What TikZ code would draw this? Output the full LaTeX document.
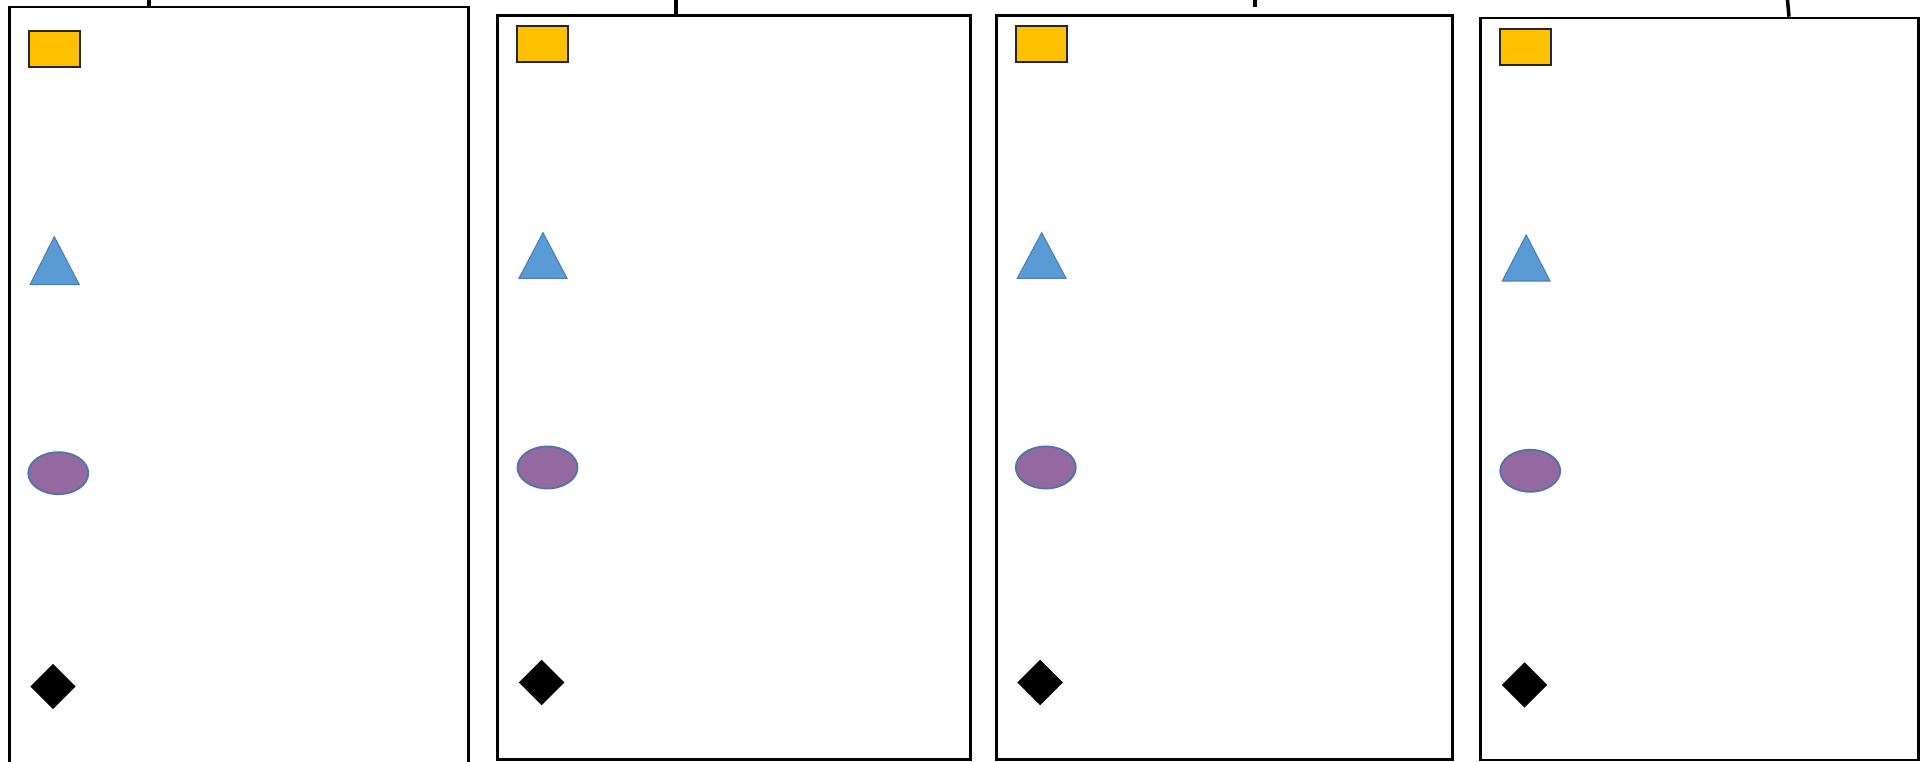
\documentclass[tikz,border=0pt]{standalone}
\usetikzlibrary{shapes.geometric}
\definecolor{shapeyellow}{HTML}{FFC000}
\definecolor{triblue}{HTML}{5B9BD5}
\definecolor{triedge}{HTML}{4A7EB5}
\definecolor{ellpurple}{HTML}{9469A0}
\definecolor{elledge}{HTML}{4F74A8}
\begin{document}
\begin{tikzpicture}[x=0.01cm,y=-0.01cm,
  panel/.style={draw=black,line width=0.8pt,fill=white,inner sep=0pt,anchor=north west},
  stub/.style={draw=black,line width=1pt},
  ybox/.style={rectangle,draw=black!85,line width=0.6pt,fill=shapeyellow,inner sep=0pt,minimum width=5.1mm,minimum height=3.6mm},
  tri/.style={draw=triedge,line width=0.3pt,fill=triblue},
  ell/.style={ellipse,draw=elledge,line width=0.5pt,fill=ellpurple,inner sep=0pt,minimum width=6.0mm,minimum height=4.2mm},
  dia/.style={diamond,fill=black,inner sep=0pt,minimum width=4.6mm,minimum height=4.6mm}]
\useasboundingbox (0,0) rectangle (1927,762);
\clip (0,0) rectangle (1927,762);
\fill[white] (0,0) rectangle (1927,762);

% panels
\node[panel,minimum width=4.59cm,minimum height=7.8cm] (b1) at (8,5.7) {};
\node[panel,minimum width=4.73cm,minimum height=7.44cm] (b2) at (496,14) {};
\node[panel,minimum width=4.56cm,minimum height=7.44cm] (b3) at (995,14) {};
\node[panel,minimum width=4.38cm,minimum height=7.415cm] (b4) at (1479,16.7) {};

% stubs at the top
\coordinate (t1) at (149,-5);
\draw[stub] (t1) -- (t1 |- b1.north);
\coordinate (t2) at (676,-5);
\draw[stub] (t2) -- (t2 |- b2.north);
\coordinate (t3a) at (1255,-5);
\coordinate (t3b) at (1255,7);
\draw[stub] (t3a) -- (t3b);
\coordinate (t4a) at (1787,-5);
\coordinate (t4b) at (1789,16.7);
\draw[stub] (t4a) -- (t4b);

% panel 1 shapes
\node[ybox] (r1) at (54.7,49) {};
\draw[tri] (30,284.7) coordinate (tr1a) -- (54.3,236.7) coordinate (tr1b) -- (79.3,284.7) coordinate (tr1c) -- cycle;
\node[ell] (e1) at (58.3,473.2) {};
\node[dia] (d1) at (53,686.5) {};

% panel 2 shapes
\node[ybox] (r2) at (542.8,43.8) {};
\draw[tri] (519,278.3) coordinate (tr2a) -- (543,232.7) coordinate (tr2b) -- (567,278.3) coordinate (tr2c) -- cycle;
\node[ell] (e2) at (547.5,467.5) {};
\node[dia] (d2) at (541.7,682.5) {};

% panel 3 shapes
\node[ybox] (r3) at (1041.5,44) {};
\draw[tri] (1017.3,278.3) coordinate (tr3a) -- (1041.7,232.7) coordinate (tr3b) -- (1066,278.3) coordinate (tr3c) -- cycle;
\node[ell] (e3) at (1045.8,467.5) {};
\node[dia] (d3) at (1040.2,682.5) {};

% panel 4 shapes
\node[ybox] (r4) at (1525.8,47) {};
\draw[tri] (1502.3,281) coordinate (tr4a) -- (1526.2,235) coordinate (tr4b) -- (1550,281) coordinate (tr4c) -- cycle;
\node[ell] (e4) at (1530.2,470.8) {};
\node[dia] (d4) at (1524.5,685) {};
\end{tikzpicture}
\end{document}
